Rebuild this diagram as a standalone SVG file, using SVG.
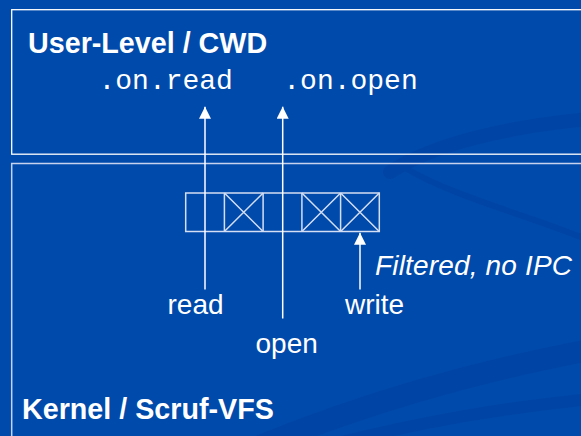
<svg xmlns="http://www.w3.org/2000/svg" width="581" height="436" viewBox="0 0 581 436">
  <defs>
    <style>
      .bg { fill: #004aab; }
      .swoosh { fill: none; stroke: #0043a2; stroke-linecap: round; }
      .box-user { fill: none; stroke: #ffffff; stroke-width: 1.3; }
      .box-kernel { fill: none; stroke: #c6d2ee; stroke-width: 1.5; }
      .cell { fill: none; stroke: #d4def4; stroke-width: 1.5; }
      .wire { fill: none; stroke: #ffffff; stroke-width: 1.5; }
      .title { font-family: "Liberation Sans", Arial, sans-serif; font-weight: bold; font-size: 28.7px; fill: #ffffff; }
      .label { font-family: "Liberation Sans", Arial, sans-serif; font-size: 28px; fill: #ffffff; }
      .note { font-family: "Liberation Sans", Arial, sans-serif; font-style: italic; font-size: 28px; fill: #ffffff; }
      .mono { font-family: "Liberation Mono", "Courier New", monospace; font-size: 28px; fill: #ffffff; }
    </style>
    <marker id="head" markerUnits="userSpaceOnUse" markerWidth="12" markerHeight="12" refX="12" refY="6" orient="auto">
      <path d="M0,0 L12,6 L0,12 Z" fill="#ffffff"/>
    </marker>
  </defs>

  <!-- slide background with faint decorative bands -->
  <rect class="bg" x="0" y="0" width="581" height="436"/>
  <g id="backdrop" opacity="0.6">
    <path class="swoosh" stroke-width="14" d="M390,172 C440,140 520,125 600,118"/>
    <path class="swoosh" stroke-width="6" d="M405,168 C460,200 540,218 600,245"/>
    <path class="swoosh" stroke-width="22" d="M250,450 C360,405 470,372 600,348"/>
    <path class="swoosh" stroke-width="12" d="M330,445 C420,422 500,408 600,398"/>
  </g>

  <!-- user-level region -->
  <g id="user-level">
    <rect class="box-user" x="11.7" y="9.7" width="600" height="144.5"/>
    <text class="title" x="28" y="52.5">User-Level / CWD</text>
    <text class="mono" x="98.5" y="89">.on.read</text>
    <text class="mono" x="283.3" y="89">.on.open</text>
  </g>

  <!-- kernel region -->
  <g id="kernel">
    <rect class="box-kernel" x="11.7" y="163.5" width="600" height="300"/>
    <text class="title" x="22" y="419.3">Kernel / Scruf-VFS</text>
  </g>

  <!-- per-operation filter cells: crossed cells are filtered -->
  <g id="filter-cells">
    <rect class="cell" x="185.7" y="193" width="193.6" height="38.5"/>
    <path class="cell" d="M224.4,193 V231.5 M263.1,193 V231.5 M301.9,193 V231.5 M340.6,193 V231.5"/>
    <path class="cell" d="M224.4,193 L263.1,231.5 M263.1,193 L224.4,231.5"/>
    <path class="cell" d="M301.9,193 L340.6,231.5 M340.6,193 L301.9,231.5"/>
    <path class="cell" d="M340.6,193 L379.3,231.5 M379.3,193 L340.6,231.5"/>
  </g>

  <!-- operation labels -->
  <g id="op-read"><text class="label" x="167.5" y="314">read</text></g>
  <g id="op-open"><text class="label" x="255.5" y="352.5">open</text></g>
  <g id="op-write"><text class="label" x="345" y="314">write</text></g>
  <g id="filtered-note"><text class="note" x="375" y="275" textLength="197" lengthAdjust="spacing">Filtered, no IPC</text></g>

  <!-- connectors -->
  <g id="connectors">
    <line class="wire" x1="205" y1="289.5" x2="205" y2="106.7" marker-end="url(#head)"/>
    <line class="wire" x1="282.7" y1="318.5" x2="282.7" y2="106.7" marker-end="url(#head)"/>
    <line class="wire" x1="360" y1="289.5" x2="360" y2="232.8" marker-end="url(#head)"/>
  </g>
</svg>
